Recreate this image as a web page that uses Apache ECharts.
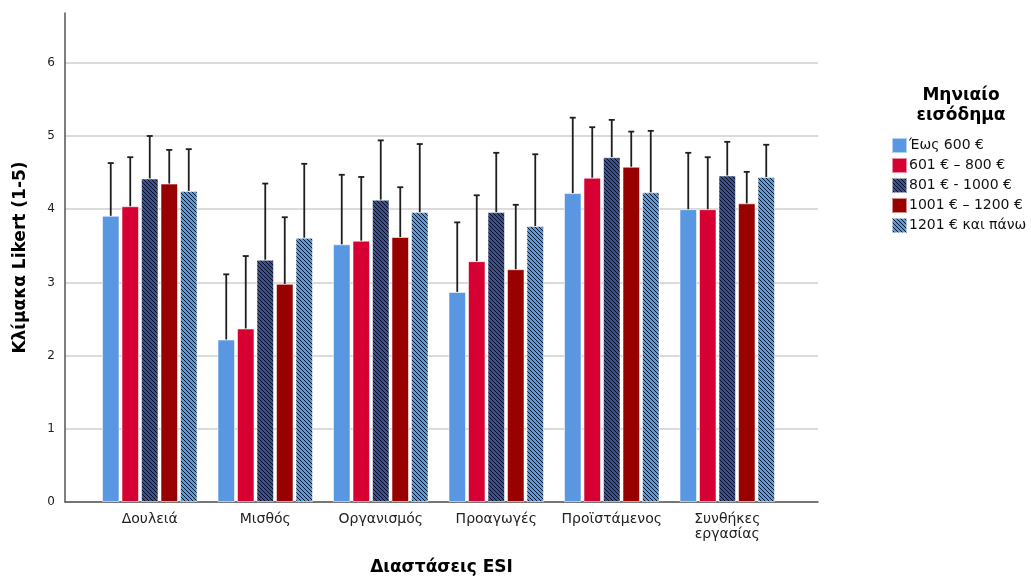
<!DOCTYPE html>
<html>
<head>
<meta charset="utf-8">
<script src="https://cdn.jsdelivr.net/npm/echarts@6/dist/echarts.min.js"></script>
<style>html,body{margin:0;padding:0;background:#fff}#c{width:1031px;height:578px}</style>
</head>
<body>
<div id="c"></div>
<script>
const categories = ['Δουλειά', 'Μισθός', 'Οργανισμός', 'Προαγωγές', 'Προϊστάμενος', 'Συνθήκες\nεργασίας'];
const seriesNames = ['Έως 600 €', '601 € – 800 €', '801 € - 1000 €', '1001 € – 1200 €', '1201 € και πάνω'];
const means0 = [3.91, 2.22, 3.52, 2.87, 4.22, 4.00];
const means1 = [4.04, 2.37, 3.57, 3.29, 4.43, 4.00];
const means2 = [4.42, 3.31, 4.13, 3.96, 4.71, 4.46];
const means3 = [4.35, 2.98, 3.62, 3.18, 4.58, 4.08];
const means4 = [4.25, 3.61, 3.96, 3.77, 4.23, 4.44];
const upper0 = [4.63, 3.11, 4.47, 3.82, 5.25, 4.77];
const upper1 = [4.71, 3.36, 4.44, 4.19, 5.12, 4.71];
const upper2 = [5.00, 4.35, 4.94, 4.77, 5.22, 4.92];
const upper3 = [4.81, 3.89, 4.30, 4.06, 5.06, 4.51];
const upper4 = [4.82, 4.62, 4.89, 4.75, 5.07, 4.88];
const yTickMax = 6;

const means = [means0, means1, means2, means3, means4];
const uppers = [upper0, upper1, upper2, upper3, upper4];

function hatch(bg) {
  const s = 4;
  const c = document.createElement('canvas');
  c.width = s; c.height = s;
  const g = c.getContext('2d');
  g.fillStyle = bg; g.fillRect(0, 0, s, s);
  g.strokeStyle = 'rgba(0,0,0,0.85)';
  g.lineWidth = 1;
  for (let k = -1; k <= 1; k++) {
    g.beginPath(); g.moveTo(k * s, 0); g.lineTo(k * s + s, s); g.stroke();
  }
  return { image: c, repeat: 'repeat' };
}

const FONT = 'DejaVu Sans, Liberation Sans, Arial, sans-serif';
const colors = ['#5a97e3', '#d60032', hatch('#3a519a'), '#990000', hatch('#5b9be5')];
const BW = 17.5, GAP = 2;

const series = [];
seriesNames.forEach((n, i) => {
  series.push({
    name: n, type: 'bar', xAxisIndex: 1, yAxisIndex: 1,
    data: means[i], barWidth: BW, barGap: (GAP / BW * 100) + '%',
    itemStyle: { color: colors[i], borderColor: 'rgba(255,255,255,0.55)', borderWidth: 1 },
    z: 2
  });
});
seriesNames.forEach((n, i) => {
  series.push({
    type: 'custom', xAxisIndex: 1, yAxisIndex: 1, z: 3,
    data: means[i].map((m, j) => [j, m, uppers[i][j]]),
    renderItem: function (params, api) {
      const base = api.coord([api.value(0), api.value(1)]);
      const top = api.coord([api.value(0), api.value(2)]);
      const x = base[0] + (i - 2) * (BW + GAP);
      const st = { stroke: '#1e1e1e', lineWidth: 1.8 };
      return {
        type: 'group', children: [
          { type: 'line', shape: { x1: x, y1: base[1], x2: x, y2: top[1] }, style: st },
          { type: 'line', shape: { x1: x - 3, y1: top[1], x2: x + 3, y2: top[1] }, style: st }
        ]
      };
    }
  });
});

const YMAX = 6.68;
const TOP = 13, BOTTOM = 578 - 502;
const TOP6 = 502 - (502 - TOP) * yTickMax / YMAX;
const chart = echarts.init(document.getElementById('c'), null, { renderer: 'canvas' });
chart.setOption({
  animation: false,
  textStyle: { fontFamily: FONT },
  title: {
    text: 'Μηνιαίο\nεισόδημα', left: 956, top: 81, textAlign: 'center',
    textStyle: { fontSize: 17, fontWeight: 'bold', color: '#000', lineHeight: 20, fontFamily: FONT }
  },
  legend: {
    data: seriesNames, orient: 'vertical', left: 886, top: 132,
    itemWidth: 15, itemHeight: 15, itemGap: 3,
    textStyle: { fontSize: 14, color: '#111', padding: [0, 0, 0, -3], fontFamily: FONT },
    icon: 'rect', selectedMode: false
  },
  grid: [
    { left: 65, right: 1031 - 818, top: TOP6, bottom: BOTTOM, outerBoundsMode: 'none' },
    { left: 92, right: 1031 - 785, top: TOP, bottom: BOTTOM, outerBoundsMode: 'none' },
    { left: 65, right: 1031 - 818, top: TOP, bottom: BOTTOM, outerBoundsMode: 'none' }
  ],
  xAxis: [
    {
      gridIndex: 0, type: 'value', min: 0, max: 1,
      axisLine: { show: true, lineStyle: { color: '#555', width: 1.5 } },
      axisTick: { show: false }, axisLabel: { show: false }, splitLine: { show: false },
      name: 'Διαστάσεις ESI', nameLocation: 'middle', nameGap: 57,
      nameTextStyle: { fontSize: 17, fontWeight: 'bold', color: '#000', fontFamily: FONT }
    },
    {
      gridIndex: 1, type: 'category', data: categories,
      axisLine: { show: false }, axisTick: { show: false },
      axisLabel: { fontSize: 14, color: '#222', margin: 10, lineHeight: 15, interval: 0, fontFamily: FONT }
    },
    {
      gridIndex: 2, type: 'value', min: 0, max: 1, show: false
    }
  ],
  yAxis: [
    {
      gridIndex: 0, type: 'value', min: 0, max: yTickMax, interval: 1,
      axisLine: { show: false },
      axisTick: { show: false },
      axisLabel: { fontSize: 12, color: '#222', margin: 10, fontFamily: FONT },
      splitLine: { show: true, lineStyle: { color: '#cfcfcf', width: 1.5 } }
    },
    {
      gridIndex: 1, type: 'value', min: 0, max: YMAX, show: false, splitLine: { show: false }
    },
    {
      gridIndex: 2, type: 'value', min: 0, max: YMAX,
      axisLine: { show: true, lineStyle: { color: '#555', width: 1.5 } },
      axisTick: { show: false }, axisLabel: { show: false }, splitLine: { show: false },
      name: 'Κλίμακα Likert (1-5)', nameLocation: 'middle', nameGap: 36,
      nameTextStyle: { fontSize: 17, fontWeight: 'bold', color: '#000', fontFamily: FONT }
    }
  ],
  series: series
});
</script>
</body>
</html>
